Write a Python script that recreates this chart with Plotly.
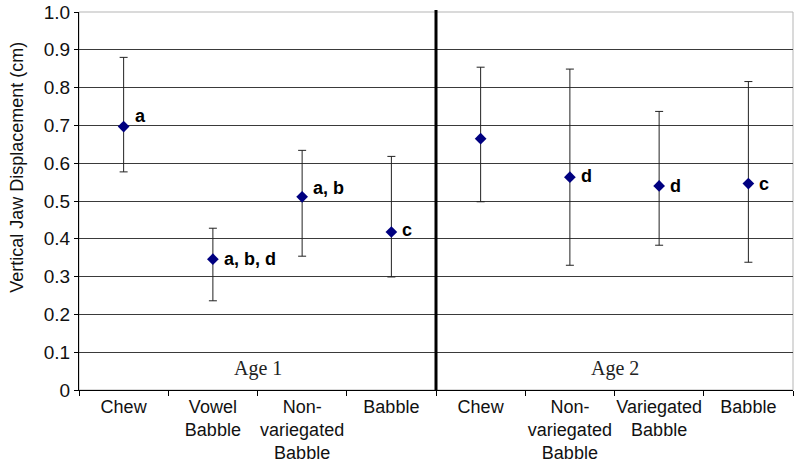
import plotly.graph_objects as go

# ---- data ----
category_ids = ["A1 Chew", "A1 Vowel Babble", "A1 Non-variegated Babble", "A1 Babble",
                "A2 Chew", "A2 Non-variegated Babble", "A2 Variegated Babble", "A2 Babble"]
tick_labels = ["Chew", "Vowel<br>Babble", "Non-<br>variegated<br>Babble", "Babble",
               "Chew", "Non-<br>variegated<br>Babble", "Variegated<br>Babble", "Babble"]
means = [0.697, 0.346, 0.511, 0.418, 0.665, 0.563, 0.540, 0.546]
upper = [0.880, 0.428, 0.634, 0.618, 0.854, 0.849, 0.737, 0.816]
lower = [0.577, 0.236, 0.354, 0.299, 0.498, 0.330, 0.383, 0.338]
sig_labels = ["a", "a, b, d", "a, b", "c", "", "d", "d", "c"]
y_ticks = [0, 0.1, 0.2, 0.3, 0.4, 0.5, 0.6, 0.7, 0.8, 0.9, 1.0]
y_tick_text = ["0", "0.1", "0.2", "0.3", "0.4", "0.5", "0.6", "0.7", "0.8", "0.9", "1.0"]
group_labels = ["Age 1", "Age 2"]

# style offsets for significance labels (pixels)
label_yshift = [11, 0, 9, 2, 0, 1, 0, 0]

err_plus = [u - m for u, m in zip(upper, means)]
err_minus = [m - l for m, l in zip(means, lower)]

fig = go.Figure()
fig.add_trace(go.Scatter(
    x=category_ids, y=means, mode="markers",
    marker=dict(symbol="diamond", size=9, color="#000080"),
    error_y=dict(type="data", symmetric=False, array=err_plus, arrayminus=err_minus,
                 color="#222222", thickness=1, width=4),
    showlegend=False, hoverinfo="skip",
))

font_family = "Liberation Sans, Arial, sans-serif"

annotations = []
for cid, m, lab, ys in zip(category_ids, means, sig_labels, label_yshift):
    if lab:
        annotations.append(dict(x=cid, y=m, xref="x", yref="y", text="<b>%s</b>" % lab,
                                showarrow=False, xanchor="left", yanchor="middle",
                                xshift=9, yshift=ys,
                                font=dict(family=font_family, size=18, color="black")))
# group labels centred in each half
annotations.append(dict(x=0.25, y=0.058, xref="paper", yref="paper", text=group_labels[0],
                        showarrow=False, xanchor="center", yanchor="middle",
                        font=dict(family="Liberation Serif, Times New Roman, serif", size=20, color="#222222")))
annotations.append(dict(x=0.75, y=0.058, xref="paper", yref="paper", text=group_labels[1],
                        showarrow=False, xanchor="center", yanchor="middle",
                        font=dict(family="Liberation Serif, Times New Roman, serif", size=20, color="#222222")))
# y-axis title
annotations.append(dict(x=-0.087, y=0.59, xref="paper", yref="paper",
                        text="Vertical Jaw Displacement (cm)", textangle=-90,
                        showarrow=False, xanchor="center", yanchor="middle",
                        font=dict(family=font_family, size=18, color="#111111")))

shapes = [
    # plot border (grey)
    dict(type="rect", xref="paper", yref="paper", x0=0, x1=1, y0=0, y1=1,
         line=dict(color="#b5b5b5", width=1), layer="below"),
    # thick divider between age groups
    dict(type="line", xref="x", yref="paper", x0=3.5, x1=3.5, y0=0, y1=1.005,
         line=dict(color="black", width=3), layer="above"),
]

fig.update_layout(
    width=800, height=473,
    margin=dict(l=79, r=7, t=12, b=83, autoexpand=False),
    paper_bgcolor="white", plot_bgcolor="white",
    font=dict(family=font_family, size=18, color="black"),
    annotations=annotations, shapes=shapes,
    showlegend=False,
)
fig.update_xaxes(
    type="category", categoryorder="array", categoryarray=category_ids,
    tickmode="array", tickvals=category_ids, ticktext=tick_labels,
    tickson="boundaries", ticks="outside", ticklen=5, tickcolor="black",
    tickangle=0, automargin=False,
    showline=True, linecolor="black", linewidth=1,
    showgrid=False, range=[-0.5, 7.5],
    tickfont=dict(family=font_family, size=18, color="#111111"),
)
fig.update_yaxes(
    range=[0, 1.0], tickmode="array", tickvals=y_ticks, ticktext=y_tick_text,
    ticks="outside", ticklen=4, tickcolor="black", automargin=False,
    showline=True, linecolor="black", linewidth=1,
    showgrid=True, gridcolor="#3a3a3a", gridwidth=1, zeroline=False,
    tickfont=dict(family=font_family, size=19, color="#111111"),
)

# remove the page's default 8px body margin so the figure sits at the top-left corner
fig.write_html("out.html", config={"displayModeBar": False},
               post_script="document.body.style.margin='0px';")
